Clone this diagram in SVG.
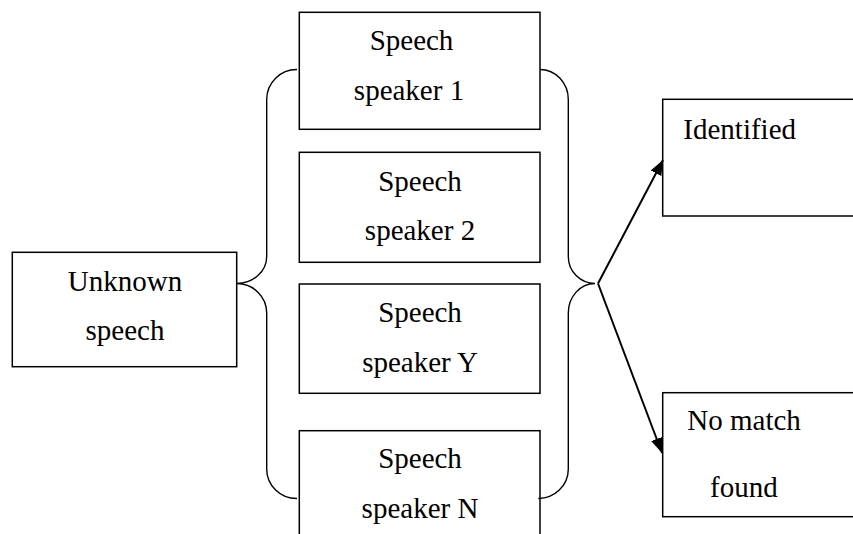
<svg xmlns="http://www.w3.org/2000/svg" width="853" height="534" viewBox="0 0 853 534">
  <style>
    .box { fill: #fff; stroke: #000; stroke-width: 1.5; }
    .brace { fill: none; stroke: #000; stroke-width: 1.4; }
    .arrow { fill: none; stroke: #000; stroke-width: 2; }
    text { font-family: "Liberation Serif", "Times New Roman", serif; font-size: 29px; fill: #000; }
    .c { text-anchor: middle; }
  </style>
  <defs>
    <marker id="head" markerUnits="userSpaceOnUse" markerWidth="16" markerHeight="12" refX="15" refY="6" orient="auto">
      <path d="M0,0 L15,6 L0,12 Z" fill="#000"/>
    </marker>
  </defs>
  <rect width="853" height="534" fill="#fff"/>

  <g id="unknown">
    <rect class="box" x="12.3" y="252.3" width="224.4" height="114.4"/>
    <text class="c" x="125" y="290.7">Unknown</text>
    <text class="c" x="125" y="340">speech</text>
  </g>

  <g id="speaker1">
    <rect class="box" x="299.3" y="12.3" width="240.7" height="117"/>
    <text class="c" x="411.5" y="50">Speech</text>
    <text class="c" x="409" y="100">speaker 1</text>
  </g>

  <g id="speaker2">
    <rect class="box" x="299.3" y="152.3" width="240.7" height="110"/>
    <text class="c" x="420" y="190.7">Speech</text>
    <text class="c" x="420" y="240">speaker 2</text>
  </g>

  <g id="speakerY">
    <rect class="box" x="299.3" y="284" width="240.7" height="109.3"/>
    <text class="c" x="420" y="321.7">Speech</text>
    <text class="c" x="420" y="371.7">speaker Y</text>
  </g>

  <g id="speakerN">
    <rect class="box" x="299.3" y="430.7" width="240.7" height="120"/>
    <text class="c" x="420" y="468.3">Speech</text>
    <text class="c" x="420" y="518.3">speaker N</text>
  </g>

  <g id="identified">
    <rect class="box" x="662.7" y="99.3" width="200" height="116.7"/>
    <text x="683.3" y="139.3">Identified</text>
  </g>

  <g id="nomatch">
    <rect class="box" x="662.7" y="392.7" width="200" height="124"/>
    <text x="687.3" y="430">No match</text>
    <text x="710" y="496.7">found</text>
  </g>

  <g id="connectors">
    <!-- left brace gathering the speaker set -->
    <path class="brace" d="M297,69.5 A30,30 0 0 0 266.7,99.5 L266.7,256.5 A30,27 0 0 1 236.7,283.5 A30,29.5 0 0 1 266.7,313 L266.7,469 A30,29.5 0 0 0 297,498.5"/>
    <!-- right brace -->
    <path class="brace" d="M540,69.5 A28.3,30 0 0 1 568.3,99.5 L568.3,256.5 A26.7,27 0 0 0 595,283.5 A26.7,29.5 0 0 0 568.3,313 L568.3,469 A30,29.5 0 0 1 538.3,498.5"/>
    <!-- decision arrows -->
    <line class="arrow" x1="598" y1="283.5" x2="663" y2="160" marker-end="url(#head)"/>
    <line class="arrow" x1="598" y1="283.5" x2="662" y2="453" marker-end="url(#head)"/>
  </g>
</svg>
